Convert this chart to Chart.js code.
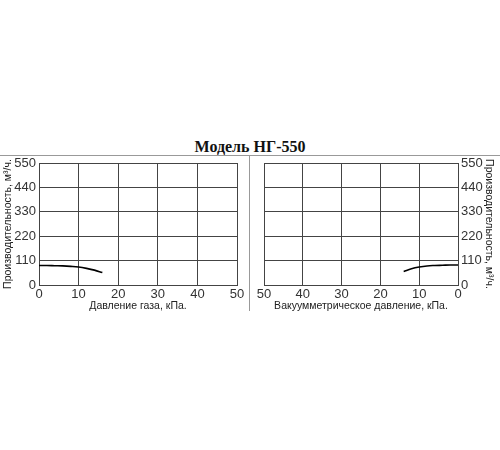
<!DOCTYPE html>
<html>
<head>
<meta charset="utf-8">
<script src="https://cdn.jsdelivr.net/npm/chart.js@4"></script>
<style>
  body { margin: 0; background: #fff; width: 500px; height: 450px; position: relative; overflow: hidden; }
  #title { position: absolute; left: 0; width: 500px; top: 138px; text-align: center;
           font: bold 16px "Liberation Serif", serif; color: #111; }
  #hline { position: absolute; left: 0; top: 155px; width: 500px; height: 1px; background: #999; }
  #vline { position: absolute; left: 249px; top: 155px; width: 1px; height: 156px; background: #999; }
  .box { position: absolute; top: 150px; width: 250px; height: 162px; }
</style>
</head>
<body>
<div id="title">Модель НГ-550</div>
<div id="hline"></div>
<div id="vline"></div>
<div class="box" style="left:0"><canvas id="left"></canvas></div>
<div class="box" style="left:250px"><canvas id="right"></canvas></div>
<script>
const yTicks = [0, 110, 220, 330, 440, 550];
const xTicks = [0, 10, 20, 30, 40, 50];

// избыточное давление, кПа -> производительность, м3/ч
const pressureKpa = [0, 2, 4, 6, 8, 10, 12, 14, 16];
const pressureFlow = [88, 88, 87, 86, 84, 81, 75, 67, 56];

// вакуумметрическое давление, кПа -> производительность, м3/ч
const vacuumKpa = [0, 2, 4, 6, 8, 10, 12, 14];
const vacuumFlow = [90, 90, 89, 88, 86, 81, 73, 61];

const yTitle = "Производительность, м³/ч.";
const tickFont = { family: "Liberation Sans", size: 13 };
const titleFont = { family: "Liberation Sans", size: 10.5 };
const gridColor = "#444";

function makeChart(id, xs, ys, xLabel, mirrored) {
  new Chart(document.getElementById(id), {
    type: "line",
    data: {
      datasets: [{
        data: xs.map((x, i) => ({ x: x, y: ys[i] })),
        borderColor: "#000",
        borderWidth: 1.6,
        pointRadius: 0,
        tension: 0.4,
        fill: false
      }]
    },
    options: {
      responsive: false,
      animation: false,
      events: [],
      layout: { padding: mirrored ? { top: 13, left: 14, right: 5 } : { top: 13, left: 2, right: 13 } },
      plugins: { legend: { display: false }, tooltip: { enabled: false } },
      scales: {
        x: {
          type: "linear",
          min: 0, max: 50,
          reverse: mirrored,
          afterBuildTicks: s => { s.ticks = xTicks.map(v => ({ value: v })); },
          afterFit: s => { s.height = 27; },
          grid: { color: gridColor, drawTicks: false },
          border: { color: gridColor },
          ticks: { font: tickFont, color: "#333", padding: 2, maxRotation: 0 },
          title: { display: true, text: xLabel, font: titleFont, color: "#222", padding: { top: 0, bottom: 0 } }
        },
        y: {
          position: mirrored ? "right" : "left",
          min: 0, max: 550,
          afterBuildTicks: s => { s.ticks = yTicks.map(v => ({ value: v })); },
          afterFit: s => { s.width = mirrored ? 37 : 37; },
          grid: { color: gridColor, drawTicks: false },
          border: { color: gridColor },
          ticks: { font: tickFont, color: "#333", padding: 3 },
          title: { display: true, text: yTitle, font: titleFont, color: "#222", padding: 0 }
        }
      }
    }
  });
}

function sizeCanvas(id) {
  const c = document.getElementById(id);
  c.width = 250; c.height = 162;
  c.style.width = "250px"; c.style.height = "162px";
}
sizeCanvas("left");
sizeCanvas("right");

makeChart("left", pressureKpa, pressureFlow, "Давление газа, кПа.", false);
makeChart("right", vacuumKpa, vacuumFlow, "Вакуумметрическое давление, кПа.", true);
</script>
</body>
</html>
